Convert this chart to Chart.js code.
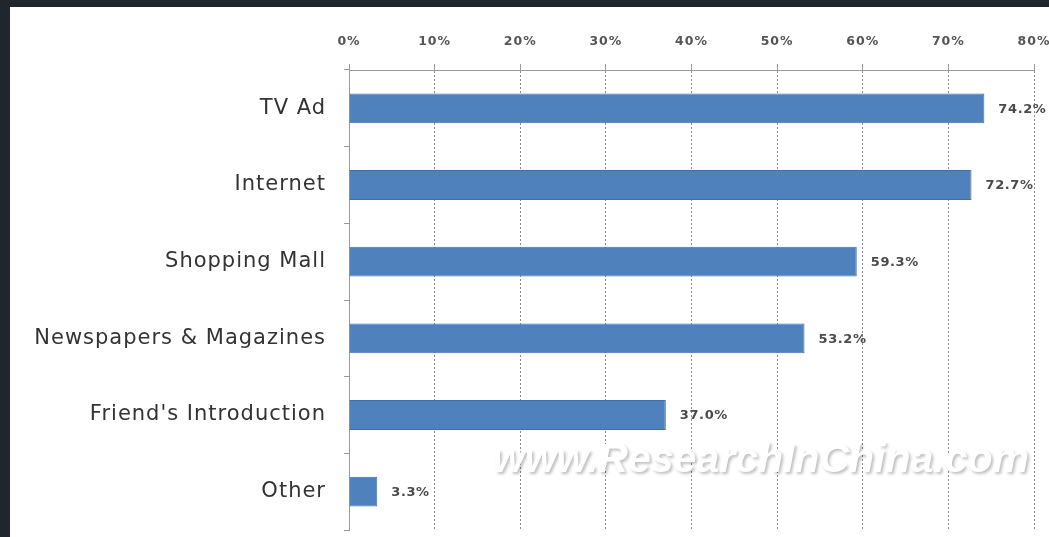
<!DOCTYPE html>
<html>
<head>
<meta charset="utf-8">
<script src="https://cdn.jsdelivr.net/npm/chart.js@4"></script>
<style>
  html, body { margin: 0; padding: 0; background: #1f262d; width: 1049px; height: 537px; overflow: hidden; }
  #wrap { position: absolute; left: 10px; top: 7px; width: 1039px; height: 530px; background: #ffffff; }
</style>
</head>
<body>
<div id="wrap"><canvas id="c" width="1039" height="530"></canvas></div>
<script>
const categories = ["TV Ad", "Internet", "Shopping Mall", "Newspapers & Magazines", "Friend's Introduction", "Other"];
const values = [74.2, 72.7, 59.3, 53.2, 37.0, 3.3];
const valueLabels = ["74.2%", "72.7%", "59.3%", "53.2%", "37.0%", "3.3%"];
const watermark = "www.ResearchInChina.com";

const spacingPlugin = {
  id: 'spacing',
  beforeDraw(chart) { chart.ctx.letterSpacing = '1px'; },
  beforeDatasetsDraw(chart) { chart.ctx.letterSpacing = '0px'; }
};

const valueLabelPlugin = {
  id: 'valueLabels',
  afterDatasetsDraw(chart) {
    const ctx = chart.ctx;
    const meta = chart.getDatasetMeta(0);
    ctx.save();
    ctx.letterSpacing = '0.6px';
    ctx.font = 'bold 13px "DejaVu Sans", Verdana, sans-serif';
    ctx.fillStyle = '#4a4a4a';
    ctx.textAlign = 'left';
    ctx.textBaseline = 'middle';
    meta.data.forEach((bar, i) => {
      ctx.fillText(valueLabels[i], bar.x + 14, bar.y + 1);
    });
    ctx.restore();
  }
};

const watermarkPlugin = {
  id: 'watermark',
  afterDraw(chart) {
    const ctx = chart.ctx;
    const a = chart.chartArea;
    ctx.save();
    ctx.letterSpacing = '0px';
    ctx.font = 'italic bold 41px "Liberation Sans", Arial, sans-serif';
    ctx.textAlign = 'right';
    ctx.textBaseline = 'middle';
    ctx.shadowColor = 'rgba(0,0,0,0.25)';
    ctx.shadowBlur = 3;
    ctx.shadowOffsetX = 2;
    ctx.shadowOffsetY = 2;
    ctx.fillStyle = '#ffffff';
    ctx.fillText(watermark, a.right - 5, a.bottom - 69);
    ctx.restore();
  }
};

function zeroPad(scale) {
  scale.paddingLeft = 0; scale.paddingRight = 0;
  scale.paddingTop = 0; scale.paddingBottom = 0;
}

new Chart(document.getElementById('c'), {
  type: 'bar',
  data: {
    labels: categories,
    datasets: [{
      data: values,
      backgroundColor: '#4f81bd',
      borderColor: '#3f6fa9',
      borderWidth: 1,
      categoryPercentage: 1.0,
      barPercentage: 0.39
    }]
  },
  options: {
    indexAxis: 'y',
    responsive: false,
    animation: false,
    layout: { padding: { left: 0, right: 15, top: 0, bottom: 7 } },
    plugins: { legend: { display: false }, tooltip: { enabled: false } },
    scales: {
      x: {
        position: 'top',
        min: 0,
        max: 80,
        ticks: {
          stepSize: 10,
          color: '#555555',
          font: { family: '"DejaVu Sans", Verdana, sans-serif', size: 12.5, weight: 'bold' },
          padding: 15,
          callback: v => v + '%'
        },
        grid: {
          color: '#8c8c8c',
          lineWidth: 1,
          drawTicks: true,
          tickLength: 6,
          tickColor: '#999999',
          tickBorderDash: [],
          drawOnChartArea: true
        },
        border: { display: true, color: '#999999', width: 1, dash: [2, 2] },
        afterFit(scale) { scale.height = 63; zeroPad(scale); }
      },
      y: {
        ticks: {
          color: '#333333',
          font: { family: '"DejaVu Sans", Verdana, sans-serif', size: 21 },
          padding: 18
        },
        grid: {
          offset: true,
          drawOnChartArea: false,
          drawTicks: true,
          tickLength: 5,
          tickColor: '#999999'
        },
        border: { display: true, color: '#999999', width: 1 },
        afterFit(scale) { scale.width = 339; zeroPad(scale); }
      }
    }
  },
  plugins: [spacingPlugin, valueLabelPlugin, watermarkPlugin]
});
</script>
</body>
</html>
